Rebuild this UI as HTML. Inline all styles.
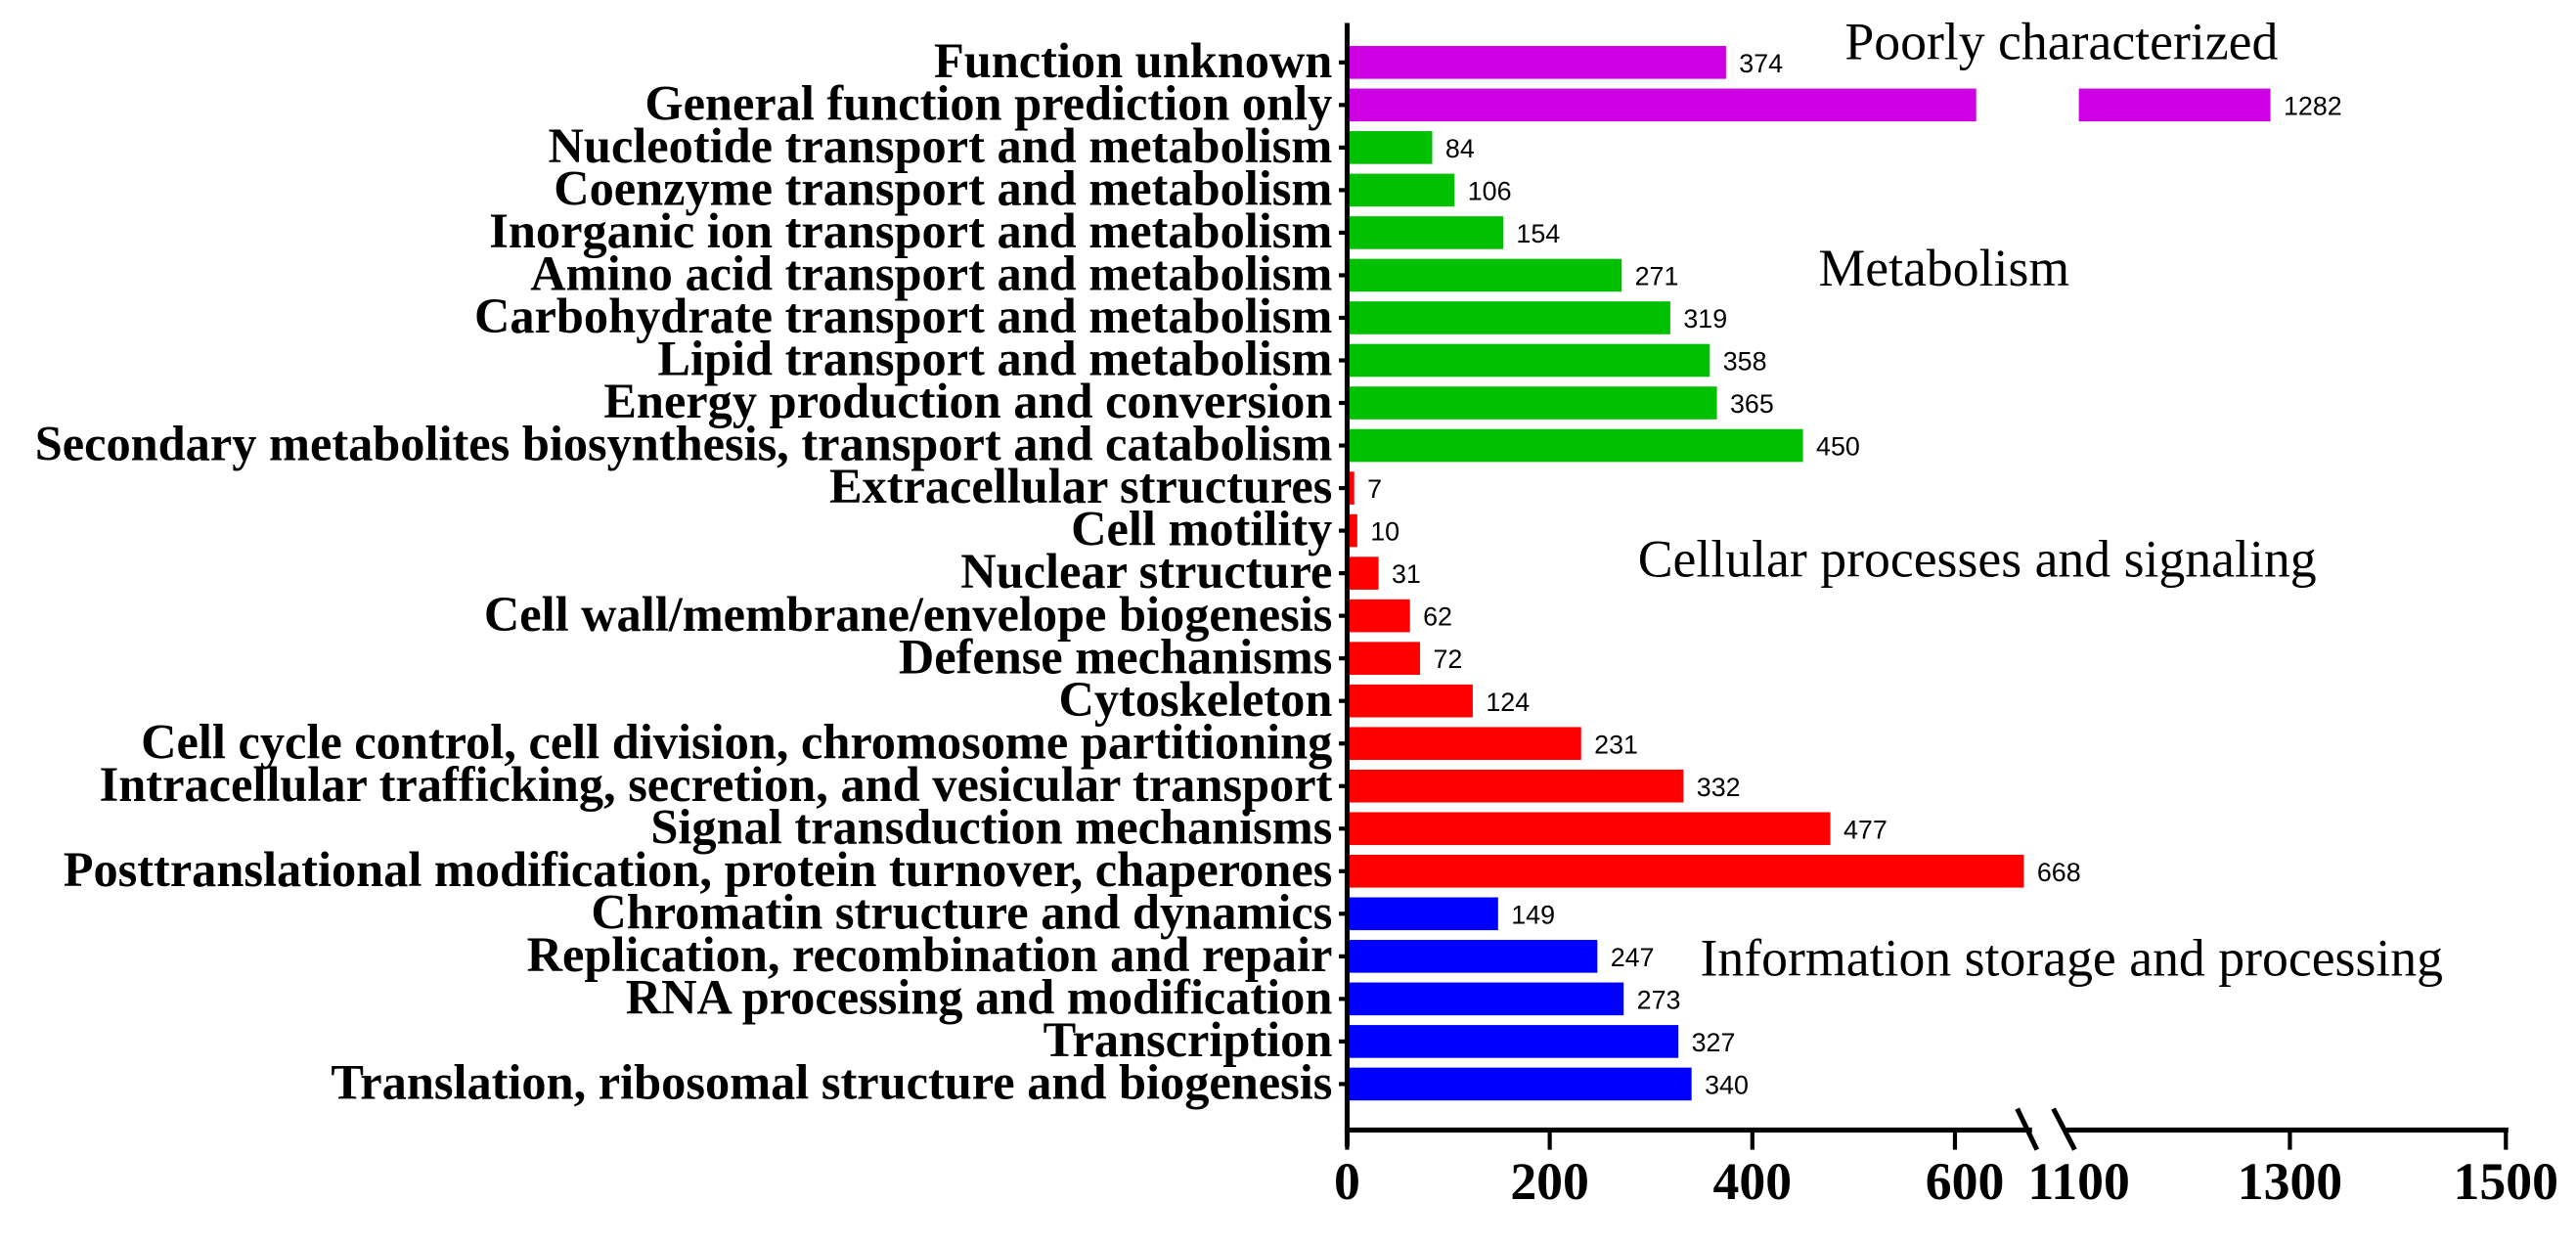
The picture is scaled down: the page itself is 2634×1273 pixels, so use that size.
<!DOCTYPE html>
<html><head><meta charset="utf-8"><style>
html,body{margin:0;padding:0;background:#fff;}
svg{display:block;}
.cat{font-family:"Liberation Serif",serif;font-weight:bold;font-size:30px;fill:#000;}
.val{font-family:"Liberation Sans",sans-serif;font-size:16px;fill:#000;}
.tick{font-family:"Liberation Serif",serif;font-weight:bold;font-size:32px;fill:#000;}
.grp{font-family:"Liberation Serif",serif;font-size:32px;fill:#000;}
</style></head><body>
<svg id="chart" width="2634" height="1273" viewBox="0 0 1568 758" xmlns="http://www.w3.org/2000/svg">
<g id="bars"></g>
<g id="axes"></g>
<text class="grp" x="1123" y="36">Poorly characterized</text>
<text class="grp" x="1107" y="174">Metabolism</text>
<text class="grp" x="997" y="351">Cellular processes and signaling</text>
<text class="grp" x="1035" y="594">Information storage and processing</text>
</svg>
<script>
const categories = ["Function unknown","General function prediction only","Nucleotide transport and metabolism","Coenzyme transport and metabolism","Inorganic ion transport and metabolism","Amino acid transport and metabolism","Carbohydrate transport and metabolism","Lipid transport and metabolism","Energy production and conversion","Secondary metabolites biosynthesis, transport and catabolism","Extracellular structures","Cell motility","Nuclear structure","Cell wall/membrane/envelope biogenesis","Defense mechanisms","Cytoskeleton","Cell cycle control, cell division, chromosome partitioning","Intracellular trafficking, secretion, and vesicular transport","Signal transduction mechanisms","Posttranslational modification, protein turnover, chaperones","Chromatin structure and dynamics","Replication, recombination and repair","RNA processing and modification","Transcription","Translation, ribosomal structure and biogenesis"];
const values = [374,1282,84,106,154,271,319,358,365,450,7,10,31,62,72,124,231,332,477,668,149,247,273,327,340];
const groups = ["P","P","M","M","M","M","M","M","M","M","C","C","C","C","C","C","C","C","C","C","I","I","I","I","I"];
const tickValues = [0,200,400,600,1100,1300,1500];
const tickLabels = ["0","200","400","600","1100","1300","1500"];
const colors = {P:"#CC00E2",M:"#00C000",C:"#FF0000",I:"#0000FF"};
const NS="http://www.w3.org/2000/svg";
const X0=820, S1=0.6168, BRK_LO=668, BRK_HI=1100, X1100=1262.5, S2=0.6575;
const SEG1_END=1203;
function xScale(v){ return v<=BRK_LO+10 ? X0+v*S1 : X1100+(v-BRK_HI)*S2; }
const Y0=38, PITCH=(660-38)/(categories.length-1), BH=20;
function yScale(i){ return Y0+i*PITCH; }
function mk(tag,attrs,parent){const e=document.createElementNS(NS,tag);for(const k in attrs)e.setAttribute(k,attrs[k]);parent.appendChild(e);return e;}
const gb=document.getElementById('bars'), ga=document.getElementById('axes');
categories.forEach((c,i)=>{
  const y=yScale(i), v=values[i], col=colors[groups[i]];
  if(v>BRK_HI){
    const r1=mk('rect',{x:X0,y:y-BH/2,width:SEG1_END-X0,height:BH,fill:col},gb);
    
    
    const r2=mk('rect',{x:X1100+3,y:y-BH/2,width:xScale(v)-X1100-3,height:BH,fill:col},gb);
    
    
  } else {
    const r=mk('rect',{x:X0,y:y-BH/2,width:Math.max(xScale(v)-X0,1),height:BH,fill:col},gb);
    
    
  }
  const t=mk('text',{x:xScale(v)+8,y:y+6,class:'val'},gb); t.textContent=v;
  
  
  const l=mk('text',{x:811,y:y+9,class:'cat','text-anchor':'end'},gb); l.textContent=c;
  
  
  const tk=mk('line',{x1:815,x2:820,y1:y,y2:y,stroke:'#000','stroke-width':2.5},ga);
  
  
});
const AY=688;
let e=mk('line',{x1:820,x2:820,y1:14,y2:AY+10,stroke:'#000','stroke-width':3},ga);


e=mk('line',{x1:818.5,x2:1237,y1:AY,y2:AY,stroke:'#000','stroke-width':3},ga);


e=mk('line',{x1:1258,x2:1527,y1:AY,y2:AY,stroke:'#000','stroke-width':3},ga);


[[1228,1240],[1250,1263]].forEach((p,k)=>{
  const s=mk('line',{x1:p[0],x2:p[1],y1:AY-13,y2:AY+12,stroke:'#000','stroke-width':3},ga);
  
  
});
tickValues.forEach((v,i)=>{
  const x=xScale(v);
  if(v!==BRK_HI){
    const tl=mk('line',{x1:x,x2:x,y1:AY,y2:AY+12,stroke:'#000','stroke-width':2.5},ga);
    
    
  }
  const tx = v===600 ? x+6 : (v===BRK_HI ? x+3 : x);
  const t=mk('text',{x:tx,y:AY+42,class:'tick','text-anchor':'middle'},ga);
  t.textContent=tickLabels[i];
  
  
});
</script>
</body></html>
